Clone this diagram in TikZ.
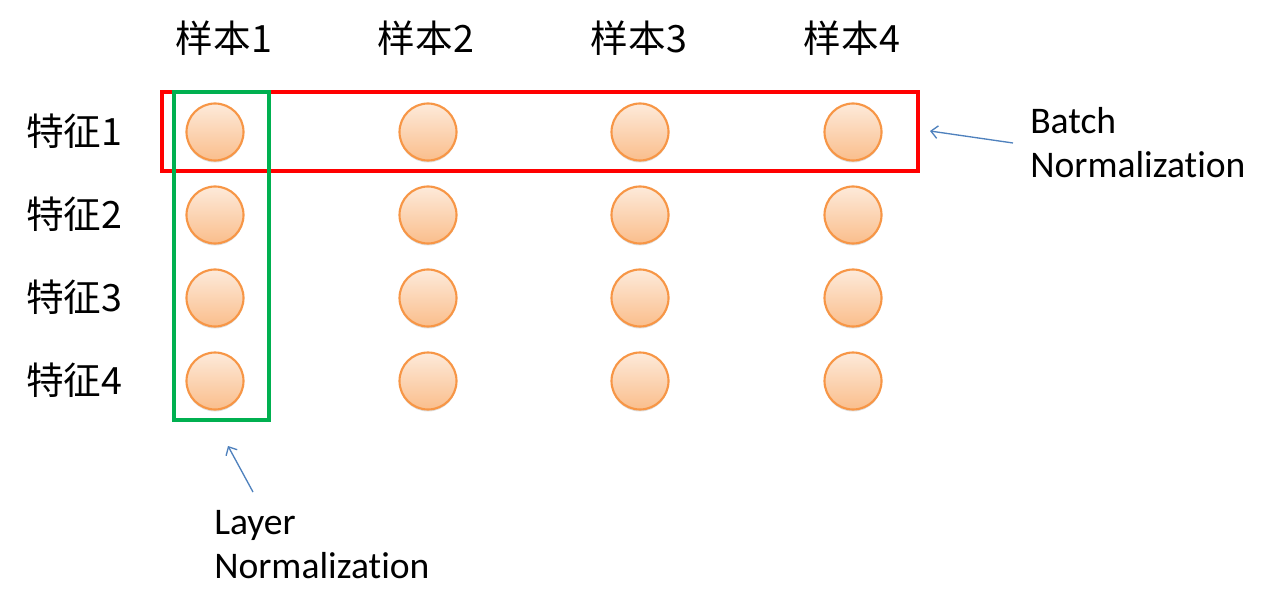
\documentclass[tikz,border=0pt]{standalone}
\usepackage{fontspec}
\setmainfont{Carlito}[Ligatures=NoCommon]
\newfontfamily\cjk{Noto Sans CJK SC}
\usetikzlibrary{shadows, arrows.meta}

\definecolor{unitline}{RGB}{247,150,70}
\definecolor{unittop}{RGB}{253,234,218}
\definecolor{unitbot}{RGB}{250,190,140}
\definecolor{bnred}{RGB}{255,0,0}
\definecolor{lngreen}{RGB}{0,176,80}
\definecolor{pointblue}{RGB}{79,129,189}

\tikzset{
  unit/.style={circle, draw=unitline, line width=1.6pt, minimum size=42.75pt,
    inner sep=0pt, top color=unittop, bottom color=unitbot,
    drop shadow={shadow xshift=0pt, shadow yshift=-1.5pt, opacity=0.25}},
  lbl/.style={font=\fontsize{28.2}{33}\selectfont, inner sep=0pt},
  pointer/.style={-{Straight Barb[length=5pt, width=9.5pt]}, draw=pointblue,
    line width=1pt},
}

\begin{document}
\begin{tikzpicture}[x=0.75pt, y=-0.75pt]
  \useasboundingbox (0,0) rectangle (1273,614);

  % sample labels on top, feature labels on the left
  \foreach \i/\x in {1/224,2/426,3/639,4/852}
    \node[lbl, anchor=base] (s\i) at (\x,52) {\cjk{样本}\i};
  \foreach \j/\y in {1/132,2/215,3/298,4/381}
    \node[lbl, anchor=base west] (f\j) at (26,\y+13) {\cjk{特征}\j};

  % one unit per sample and feature
  \foreach \i/\x in {1/215,2/428,3/640,4/853}
    \foreach \j/\y in {1/132,2/215,3/298,4/381}
      \node[unit] (c\i\j) at (\x,\y) {};

  % normalization groups
  \draw[bnred, line width=2.6pt] (162,92) rectangle (918,171);
  \draw[lngreen, line width=2.4pt] (174,92) rectangle (269,420);

  % captions with their pointers
  \node[lbl, align=left, anchor=west, inner xsep=12.75pt] (bn) at (1013,143)
    {Batch\\Normalization};
  \coordinate (bntip) at (930,131);
  \draw[pointer] (bn.west) -- (bntip);

  \node[lbl, align=left, anchor=north west] (ln) at (214,510)
    {Layer\\Normalization};
  \coordinate (lntip) at (228,446);
  \draw[pointer] ([xshift=29.25pt,yshift=13.5pt]ln.north west) -- (lntip);
\end{tikzpicture}
\end{document}
